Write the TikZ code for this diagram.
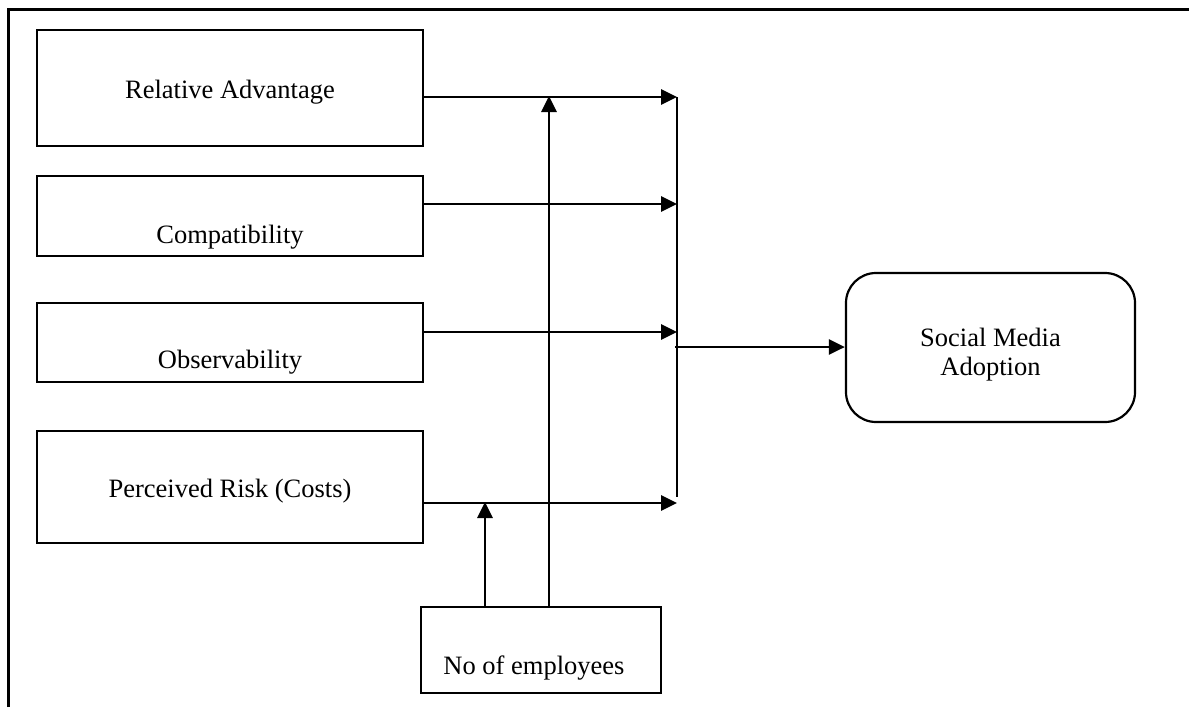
\documentclass[tikz,border=0pt]{standalone}
\usepackage{fontspec}
\setmainfont{Liberation Serif}
\usetikzlibrary{arrows.meta}
\begin{document}
\begin{tikzpicture}[x=1pt,y=-1pt,
  every node/.style={font=\fontsize{26.5}{31}\selectfont},
  factor/.style={draw,line width=2.2pt,rectangle,inner sep=0pt,minimum width=386pt},
  outcome/.style={draw,line width=2.2pt,rectangle,rounded corners=30pt,inner sep=0pt,
    minimum width=289pt,minimum height=149pt},
  link/.style={line width=2.8pt,-{Triangle[length=16pt,width=15pt]}},
  plain/.style={line width=2.8pt}]
\useasboundingbox (0,0) rectangle (1189,707);
% outer frame (top and left sides only)
\draw[line width=3pt] (8,707) -- (8,9) -- (1189,9);

% factor boxes
\node[factor,minimum height=116pt,label={[yshift=-4pt]center:Relative Advantage}] (ra) at (230,88) {};
\node[factor,minimum height=80pt,label={[yshift=-21pt]center:Compatibility}] (co) at (230,216) {};
\node[factor,minimum height=79pt,label={[yshift=-20pt]center:Observability}] (ob) at (230,342.5) {};
\node[factor,minimum height=112pt,label={[yshift=-4pt]center:Perceived Risk (Costs)}] (pr) at (230,487) {};

% outcome
\node[outcome,label={[yshift=-7pt,align=center]center:Social Media\\[-2pt]Adoption}] (sm) at (990.5,347.5) {};

% moderator
\node[draw,line width=2.2pt,rectangle,inner sep=0pt,minimum width=240pt,minimum height=86pt,
  label={[anchor=west,xshift=20pt,yshift=-18pt]west:No of employees}] (ne) at (541,650) {};

% collecting bar
\coordinate (b1) at (677,97);
\coordinate (b2) at (677,204);
\coordinate (b3) at (677,332);
\coordinate (b4) at (677,503);
\coordinate (bend) at (677,497);
\coordinate (bout) at (675,347);
\draw[plain] (b1) -- (bend);

% factor links
\draw[link] (ra.east |- b1) -- (b1);
\draw[link] (co.east |- b2) -- (b2);
\draw[link] (ob.east |- b3) -- (b3);
\draw[link] (pr.east |- b4) -- (b4);

% to outcome
\draw[link] (bout) -- (sm.west |- bout);

% moderating links
\coordinate (m1) at (549,96);
\coordinate (m2) at (485,502);
\draw[link] (ne.north -| m1) -- (m1);
\draw[link] (ne.north -| m2) -- (m2);
\end{tikzpicture}
\end{document}
